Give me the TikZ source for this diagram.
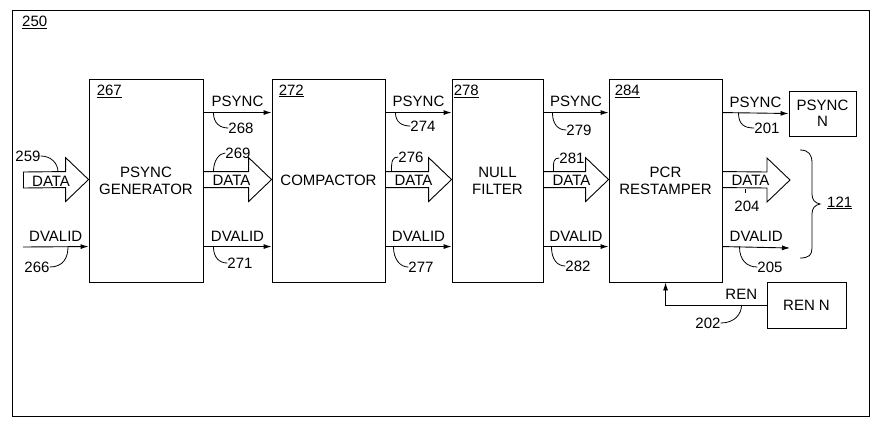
\documentclass[tikz,border=0pt]{standalone}
\usepackage{fontspec}
\setmainfont{Liberation Sans}
\usetikzlibrary{arrows.meta,calc}
\begin{document}
\begin{tikzpicture}[x=1pt,y=-1pt,
  every node/.style={font=\fontsize{15}{17}\selectfont, inner sep=0pt},
  blk/.style={draw, line width=0.9pt, align=center},
  sig/.style={line width=0.9pt, -{Latex[length=8pt,width=5pt]}},
  fat/.style={line width=0.9pt, line join=miter},
  lead/.style={line width=0.8pt},
  num/.style={anchor=center}]
\useasboundingbox (0,0) rectangle (875,424);
\draw[line width=0.9pt] (12,10) rectangle (869,416);
\node[anchor=north west] (n250) at (22,16) {\underline{250}};

% blocks
\node[blk, minimum width=114pt, minimum height=203pt] (gen) at (146,180.5) {PSYNC\\GENERATOR};
\node[blk, minimum width=113pt, minimum height=203pt] (comp) at (328.5,180.5) {COMPACTOR};
\node[blk, minimum width=91pt, minimum height=203pt] (nullf) at (497.5,180.5) {NULL\\FILTER};
\node[blk, minimum width=113pt, minimum height=203pt] (pcr) at (665.5,180.5) {PCR\\RESTAMPER};
\node[blk, minimum width=67pt, minimum height=45pt, font=\fontsize{15}{16}\selectfont] (psn) at (822.5,113.5) {PSYNC\\N};
\node[blk, minimum width=79pt, minimum height=46pt] (renn) at (806.5,305) {REN N};

% block numbers
\node[anchor=north west] (n267) at ([xshift=8pt,yshift=-6pt]gen.north west) {\underline{267}};
\node[anchor=north west] (n272) at ([xshift=7pt,yshift=-6pt]comp.north west) {\underline{272}};
\node[anchor=north west] (n278) at ([xshift=2pt,yshift=-6pt]nullf.north west) {\underline{278}};
\node[anchor=north west] (n284) at ([xshift=6pt,yshift=-6pt]pcr.north west) {\underline{284}};

% named signal points
\foreach \b in {gen,comp,nullf,pcr}{
  \path (\b.north east) ++(0,34) coordinate (\b-ops)
        (\b.north east) ++(0,101) coordinate (\b-oda)
        (\b.north east) ++(0,168) coordinate (\b-odv)
        (\b.north west) ++(0,34) coordinate (\b-ips)
        (\b.north west) ++(0,101) coordinate (\b-ida)
        (\b.north west) ++(0,168) coordinate (\b-idv);
}
\coordinate (inda) at (23,180);
\coordinate (indv) at (23,247);
\coordinate (outda) at (790,180);
\coordinate (outdv) at (790,248);

\newcommand\fatarrow[2]{%
  \draw[fat] ([yshift=8pt]#1) -- ([xshift=-23pt,yshift=8pt]#2) -- ([xshift=-23pt,yshift=22pt]#2) -- (#2)
    -- ([xshift=-23pt,yshift=-22pt]#2) -- ([xshift=-23pt,yshift=-8pt]#2) -- ([yshift=-8pt]#1);
  \node[anchor=base west] at ([xshift=9pt,yshift=-6pt]#1) {DATA};}

% input
\draw[fat] ([yshift=-8pt]inda) -- ([yshift=8pt]inda);
\fatarrow{inda}{gen-ida}
\draw[sig] (indv) -- node[above=5pt] {DVALID} (gen-idv);
\node[num] (n259) at (28,156) {259};
\draw[lead] (n259.east) .. controls +(10,0) and +(0,-9) .. ([xshift=35pt,yshift=8pt]inda);
\node[num] (n266) at (37,267) {266};
\draw[lead] (n266.east) .. controls +(14,0) and +(0,10) .. ([xshift=45pt]indv);

% stage 1 -> 2
\draw[sig] (gen-ops) -- node[above=5pt] {PSYNC} (comp-ips);
\fatarrow{gen-oda}{comp-ida}
\draw[sig] (gen-odv) -- node[above=5pt] {DVALID} (comp-idv);
\node[num] (n268) at (241,128) {268};
\draw[lead] ([xshift=10pt]gen-ops) .. controls +(0,11) and +(-8,0) .. (n268.west);
\node[num] (n269) at (238,153) {269};
\draw[lead] ([xshift=10pt,yshift=8pt]gen-oda) .. controls +(0,-11) and +(-6,0) .. (n269.west);
\node[num] (n271) at (240,263) {271};
\draw[lead] ([xshift=10pt]gen-odv) .. controls +(0,11) and +(-8,0) .. (n271.west);

% stage 2 -> 3
\draw[sig] (comp-ops) -- node[above=5pt] {PSYNC} (nullf-ips);
\fatarrow{comp-oda}{nullf-ida}
\draw[sig] (comp-odv) -- node[above=5pt] {DVALID} (nullf-idv);
\node[num] (n274) at (423,126) {274};
\draw[lead] ([xshift=10pt]comp-ops) .. controls +(0,10) and +(-8,0) .. (n274.west);
\node[num] (n276) at (411,157) {276};
\draw[lead] ([xshift=6pt,yshift=8pt]comp-oda) .. controls +(0,-11) and +(-6,0) .. (n276.west);
\node[num] (n277) at (421,267) {277};
\draw[lead] ([xshift=8pt]comp-odv) .. controls +(0,13) and +(-8,0) .. (n277.west);

% stage 3 -> 4
\draw[sig] (nullf-ops) -- node[above=5pt] {PSYNC} (pcr-ips);
\fatarrow{nullf-oda}{pcr-ida}
\draw[sig] (nullf-odv) -- node[above=5pt] {DVALID} (pcr-idv);
\node[num] (n279) at (579,130) {279};
\draw[lead] ([xshift=9pt]nullf-ops) .. controls +(0,12) and +(-8,0) .. (n279.west);
\node[num] (n281) at (572,158) {281};
\draw[lead] ([xshift=10pt,yshift=8pt]nullf-oda) .. controls +(0,-10) and +(-6,0) .. (n281.west);
\node[num] (n282) at (578,266) {282};
\draw[lead] ([xshift=8pt]nullf-odv) .. controls +(0,13) and +(-8,0) .. (n282.west);

% outputs
\draw[sig] (pcr-ops) -- node[above=5pt] {PSYNC} (psn.west);
\fatarrow{pcr-oda}{outda}
\draw[sig] (pcr-odv) -- node[above=5pt] {DVALID} (outdv);
\node[num] (n201) at (767,128) {201};
\draw[lead] ([xshift=16pt]pcr-ops) .. controls +(0,12) and +(-10,0) .. (n201.west);
\node[num] (n204) at (747,206) {204};
\draw[lead] ([xshift=23pt,yshift=-9pt]pcr-oda) -- ([xshift=23pt,yshift=-13pt]pcr-oda);
\node[num] (n205) at (770,267) {205};
\draw[lead] ([xshift=17pt]pcr-odv) .. controls +(0,14) and +(-10,0) .. (n205.west);

% brace and 121
\draw[lead] (800,150) .. controls (809,150) and (812,155) .. (812,163) -- (812,194)
  .. controls (812,200) and (815,203) .. (820,204) .. controls (815,205) and (812,208) .. (812,214)
  -- (812,248) .. controls (812,255) and (809,258) .. (800,258);
\node[anchor=west] (n121) at (827,203) {\underline{121}};

% REN
\draw[sig] (renn.west) -- node[above=5pt, pos=0.25] {REN} ++(-101,0) coordinate (renc) -- (renc |- pcr.south);
\node[num] (n202) at (708,323) {202};
\draw[lead] (n202.east) .. controls +(14,0) and +(0,9) .. ([xshift=-25pt]renn.west);
\end{tikzpicture}
\end{document}
